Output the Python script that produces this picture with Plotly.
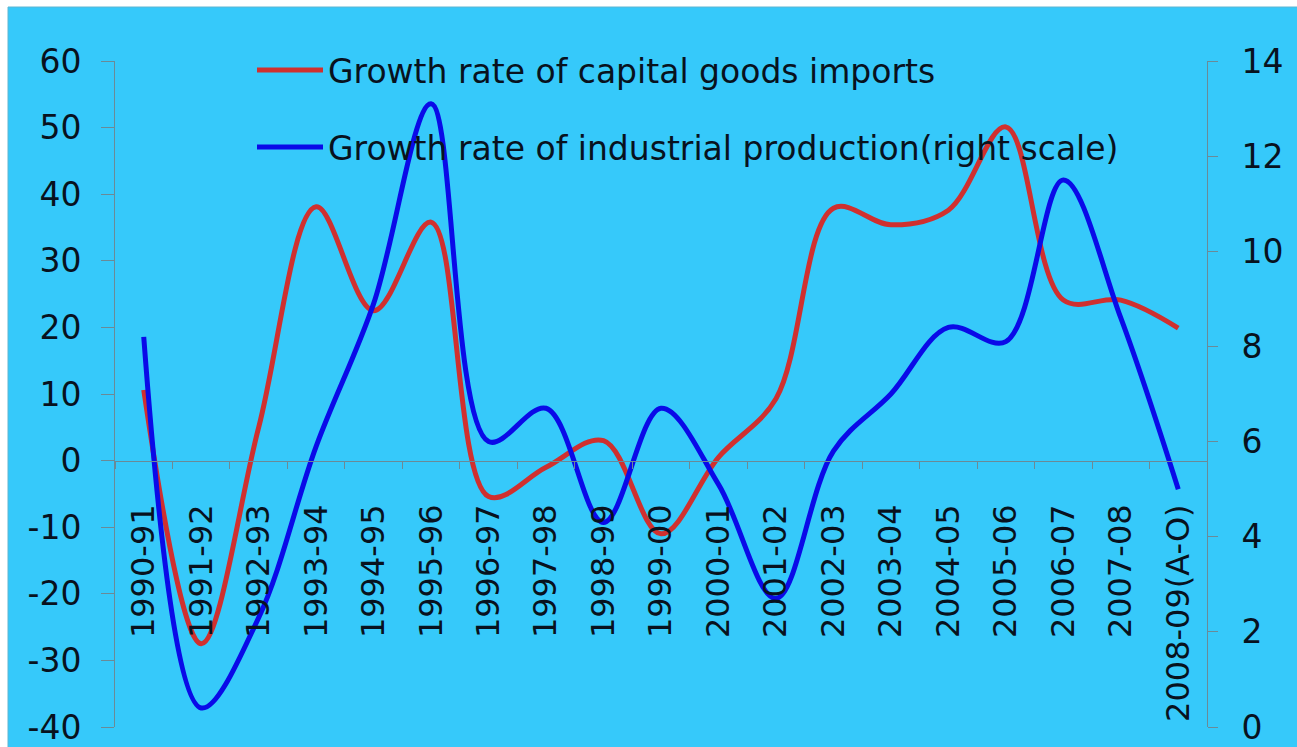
import plotly.graph_objects as go

# Fiscal years (April-March); last year covers April-October only
years = ["1990-91", "1991-92", "1992-93", "1993-94", "1994-95", "1995-96",
         "1996-97", "1997-98", "1998-99", "1999-00", "2000-01", "2001-02",
         "2002-03", "2003-04", "2004-05", "2005-06", "2006-07", "2007-08",
         "2008-09(A-O)"]

# Growth rate of capital goods imports, % (left scale)
capital_goods_imports = [10.6, -27.5, 5.0, 38.1, 22.5, 35.8, -5.4, -1.0, 3.0,
                         -11.0, 0.5, 9.3, 37.9, 35.4, 37.6, 50.1, 24.1, 24.1,
                         19.9]

# Growth rate of industrial production, % (right scale)
industrial_production = [8.2, 0.4, 2.3, 5.9, 8.9, 13.1, 6.0, 6.7, 4.3, 6.7,
                         5.1, 2.7, 5.8, 7.0, 8.4, 8.1, 11.5, 8.6, 5.0]

left_ticks = [-40, -30, -20, -10, 0, 10, 20, 30, 40, 50, 60]
right_ticks = [0, 2, 4, 6, 8, 10, 12, 14]

series_names = ["Growth rate of capital goods imports",
                "Growth rate of industrial production(right scale)"]

RED = "#D0302F"
BLUE = "#0A0AE8"
BG = "#36C9FA"
AXIS = "#6A8A97"
TEXT = "#08121E"
FONT = "DejaVu Sans"

W, H = 1297, 747
ML, MR, MT, MB = 115, 90, 61, 20
PW, PH = W - ML - MR, H - MT - MB


def px(x):
    return (x - ML) / PW


def py(y):
    return (H - MB - y) / PH


fig = go.Figure()
fig.add_trace(go.Scatter(
    x=years, y=capital_goods_imports, name=series_names[0],
    mode="lines", line=dict(color=RED, width=5, shape="spline", smoothing=1.0),
    yaxis="y", showlegend=False))
fig.add_trace(go.Scatter(
    x=years, y=industrial_production, name=series_names[1],
    mode="lines", line=dict(color=BLUE, width=5, shape="spline", smoothing=1.0),
    yaxis="y2", showlegend=False))

shapes = [
    # chart panel with thin border
    dict(type="rect", xref="paper", yref="paper", layer="below",
         x0=px(8), x1=px(W + 10), y0=py(H + 10), y1=py(7),
         fillcolor=BG, line=dict(color="#5DB6D2", width=1)),
]
annotations = []
legend_rows = [(70, RED), (147, BLUE)]
for (yy, col), name in zip(legend_rows, series_names):
    shapes.append(dict(type="line", xref="paper", yref="paper",
                       x0=px(257), x1=px(323), y0=py(yy), y1=py(yy),
                       line=dict(color=col, width=5)))
    annotations.append(dict(xref="paper", yref="paper", x=px(326), y=py(yy + 1),
                            xanchor="left", yanchor="middle", showarrow=False,
                            text=name, font=dict(family=FONT, size=33, color=TEXT)))

fig.update_layout(
    width=W, height=H,
    margin=dict(l=ML, r=MR, t=MT, b=MB, autoexpand=False),
    paper_bgcolor="white",
    plot_bgcolor="rgba(0,0,0,0)",
    font=dict(family=FONT, color=TEXT),
    shapes=shapes,
    annotations=annotations,
    showlegend=False,
    xaxis=dict(
        type="category", range=[-0.5, len(years) - 0.5],
        anchor="free", position=0.4,
        showline=True, linecolor=AXIS, linewidth=1,
        ticks="outside", tickson="boundaries", ticklen=7, tickcolor=AXIS,
        tickangle=-90, ticklabelstandoff=30,
        tickfont=dict(family=FONT, size=32, color=TEXT),
        showgrid=False, zeroline=False, automargin=False,
    ),
    yaxis=dict(
        range=[-40, 60], tickvals=left_ticks,
        ticktext=[str(v) for v in left_ticks],
        showline=True, linecolor=AXIS, linewidth=1,
        ticks="outside", ticklen=13, tickcolor=AXIS,
        ticklabelstandoff=13,
        tickfont=dict(family=FONT, size=33, color=TEXT),
        showgrid=False, zeroline=False, automargin=False,
    ),
    yaxis2=dict(
        range=[0, 14], tickvals=right_ticks, overlaying="y", side="right",
        showline=True, linecolor=AXIS, linewidth=1,
        ticks="outside", ticklen=10, tickcolor=AXIS,
        ticklabelstandoff=17,
        tickfont=dict(family=FONT, size=33, color=TEXT),
        showgrid=False, zeroline=False, automargin=False,
    ),
)

fig.write_html("out.html")
